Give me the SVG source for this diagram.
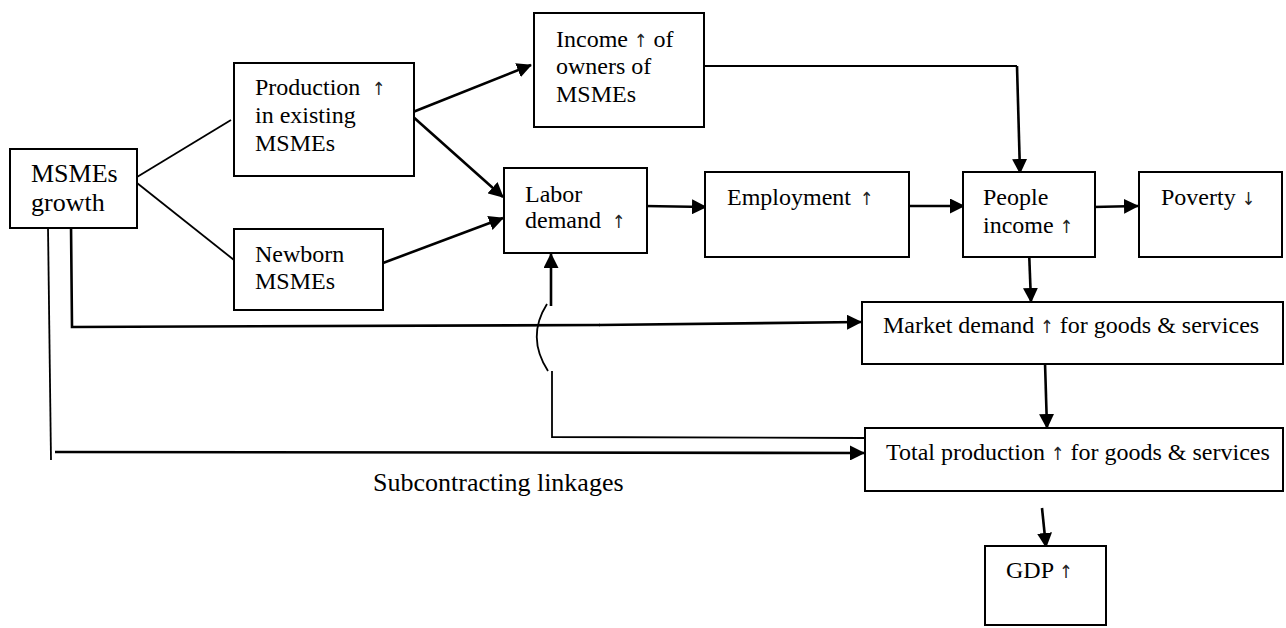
<svg xmlns="http://www.w3.org/2000/svg" width="1286" height="628" viewBox="0 0 1286 628">
<style>
.box{fill:#fff;stroke:#000;stroke-width:2}
text{font-family:"Liberation Serif","Times New Roman",serif;font-size:24px;fill:#000}
.big{font-size:26px}
.a{font-family:"DejaVu Sans Condensed","DejaVu Sans",sans-serif;font-size:18px;fill:#222}
.ln{fill:none;stroke:#000;stroke-width:1.8}
.ar{fill:none;stroke:#000;stroke-width:2.6;marker-end:url(#ah)}
.th{fill:none;stroke:#000;stroke-width:2.6}
</style>
<defs>
<marker id="ah" markerUnits="userSpaceOnUse" markerWidth="15" markerHeight="15" refX="14" refY="7.5" orient="auto">
<path d="M0,0 L15,7.5 L0,15 z" fill="#000"/>
</marker>
</defs>
<rect width="1286" height="628" fill="#fff"/>
<g id="connectors">
<line class="ln" x1="137" y1="177" x2="231" y2="120"/>
<line class="ln" x1="137" y1="183" x2="234" y2="260"/>
<line class="ar" x1="413" y1="112" x2="531" y2="65"/>
<line class="ar" x1="411" y1="115" x2="503" y2="197"/>
<line class="ar" x1="383" y1="263" x2="503" y2="218"/>
<polyline class="ln" points="704,66 1017,66"/>
<line class="ar" x1="1017" y1="66" x2="1020" y2="173"/>
<line class="ar" x1="644" y1="206" x2="706" y2="207"/>
<line class="ar" x1="909" y1="206" x2="964" y2="206"/>
<line class="ar" x1="1093" y1="207" x2="1138" y2="206"/>
<line class="ar" x1="1029" y1="250" x2="1031" y2="302"/>
<line class="ar" x1="1045" y1="363" x2="1047" y2="428"/>
<line class="ar" x1="1042" y1="508" x2="1046" y2="547"/>
<line class="ln" x1="48" y1="227" x2="51" y2="460"/>
<polyline class="th" points="71,224 72,327 600,325"/>
<line class="ar" x1="599" y1="325" x2="861" y2="322"/>
<line class="ar" x1="55" y1="452" x2="864" y2="453"/>
<polyline class="ln" points="864,438 552,437 552,371"/>
<path class="ln" d="M547,304 Q526,337 548,371"/>
<line class="ar" x1="551" y1="306" x2="551" y2="254"/>
</g>
<g id="n-msmes-growth">
<rect class="box" x="10" y="149" width="127" height="79"/>
<text class="big" x="31" y="182">MSMEs</text>
<text class="big" x="31" y="211">growth</text>
</g>
<g id="n-production">
<rect class="box" x="234" y="63" width="180" height="113"/>
<text x="255" y="95">Production<tspan class="a" x="372">↑</tspan></text>
<text x="255" y="123">in existing</text>
<text x="255" y="151">MSMEs</text>
</g>
<g id="n-newborn">
<rect class="box" x="234" y="229" width="149" height="81"/>
<text x="255" y="262">Newborn</text>
<text x="255" y="289">MSMEs</text>
</g>
<g id="n-income-owners">
<rect class="box" x="534" y="13" width="170" height="114"/>
<text x="556" y="47">Income <tspan class="a">↑</tspan> of</text>
<text x="556" y="74">owners of</text>
<text x="556" y="102">MSMEs</text>
</g>
<g id="n-labor">
<rect class="box" x="504" y="168" width="143" height="85"/>
<text x="525" y="202">Labor</text>
<text x="525" y="228">demand<tspan class="a" x="612">↑</tspan></text>
</g>
<g id="n-employment">
<rect class="box" x="705" y="172" width="204" height="85"/>
<text x="727" y="205">Employment<tspan class="a" x="860">↑</tspan></text>
</g>
<g id="n-people-income">
<rect class="box" x="963" y="172" width="132" height="85"/>
<text x="983" y="205">People</text>
<text x="983" y="233">income <tspan class="a">↑</tspan></text>
</g>
<g id="n-poverty">
<rect class="box" x="1139" y="172" width="143" height="85"/>
<text x="1161" y="205">Poverty <tspan class="a">↓</tspan></text>
</g>
<g id="n-market">
<rect class="box" x="862" y="302" width="421" height="62"/>
<text x="883" y="333">Market demand <tspan class="a">↑</tspan> for goods &amp; services</text>
</g>
<g id="n-total">
<rect class="box" x="865" y="428" width="418" height="63"/>
<text x="886" y="460">Total production <tspan class="a">↑</tspan> for goods &amp; services</text>
</g>
<g id="n-gdp">
<rect class="box" x="985" y="546" width="121" height="79"/>
<text x="1006" y="578">GDP <tspan class="a">↑</tspan></text>
</g>
<text class="big" x="373" y="491">Subcontracting linkages</text>
</svg>
